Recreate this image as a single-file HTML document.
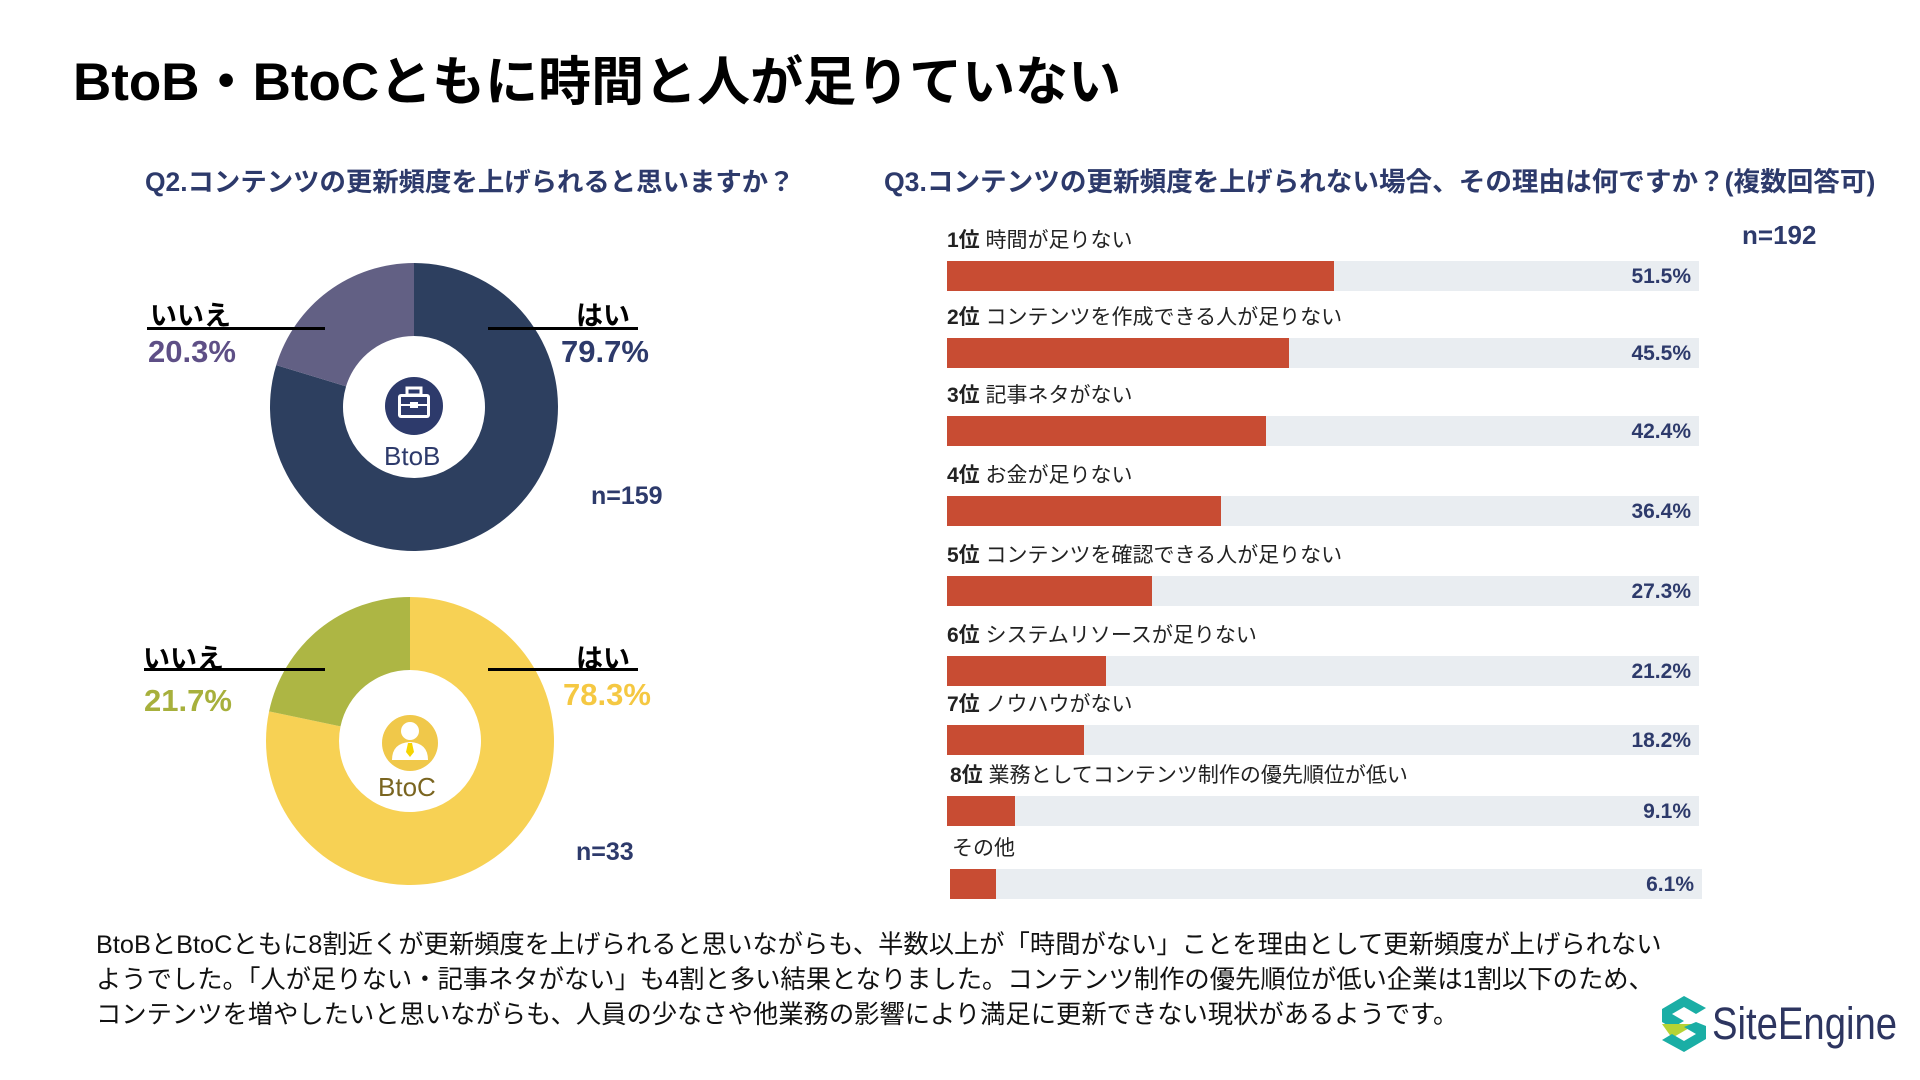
<!DOCTYPE html>
<html><head><meta charset="utf-8">
<style>
html,body{margin:0;padding:0;background:#fff;}
body{width:1920px;height:1080px;position:relative;overflow:hidden;font-family:"Liberation Sans","Noto Sans CJK JP",sans-serif;}
.a{position:absolute;white-space:nowrap;}
</style></head><body>
<div class="a" style="left:73px;top:40px;font-size:53px;font-weight:bold;color:#000;">BtoB・BtoCともに時間と人が足りていない</div>
<div class="a" style="left:145px;top:160px;font-size:26.4px;font-weight:bold;color:#2d3a6b;">Q2.コンテンツの更新頻度を上げられると思いますか？</div>
<div class="a" style="left:884px;top:160px;font-size:26.6px;font-weight:bold;color:#2d3a6b;">Q3.コンテンツの更新頻度を上げられない場合、その理由は何ですか？(複数回答可)</div>

<svg class="a" style="left:0;top:0" width="900" height="900" id="donuts"></svg>

<div class="a" style="left:150px;top:294px;font-size:27px;font-weight:bold;">いいえ</div>
<div class="a" style="left:147px;top:327px;width:178px;height:3px;background:#000;"></div>
<div class="a" style="left:148px;top:334px;font-size:31px;font-weight:bold;color:#5e4f86;">20.3%</div>
<div class="a" style="left:576px;top:294px;font-size:27px;font-weight:bold;">はい</div>
<div class="a" style="left:488px;top:327px;width:150px;height:3px;background:#000;"></div>
<div class="a" style="left:561px;top:334px;font-size:31px;font-weight:bold;color:#2d3a6b;">79.7%</div>
<div class="a" style="left:591px;top:482px;font-size:25px;font-weight:bold;color:#2d3a6b;">n=159</div>
<div class="a" style="left:384px;top:441px;font-size:26px;color:#2d3a6b;">BtoB</div>

<div class="a" style="left:143px;top:637px;font-size:27px;font-weight:bold;">いいえ</div>
<div class="a" style="left:144px;top:668px;width:181px;height:3px;background:#000;"></div>
<div class="a" style="left:144px;top:683px;font-size:31px;font-weight:bold;color:#a7b03c;">21.7%</div>
<div class="a" style="left:576px;top:637px;font-size:27px;font-weight:bold;">はい</div>
<div class="a" style="left:488px;top:668px;width:150px;height:3px;background:#000;"></div>
<div class="a" style="left:563px;top:677px;font-size:31px;font-weight:bold;color:#f5c842;">78.3%</div>
<div class="a" style="left:576px;top:838px;font-size:25px;font-weight:bold;color:#2d3a6b;">n=33</div>
<div class="a" style="left:378px;top:772px;font-size:26px;color:#7a6520;">BtoC</div>

<div class="a" style="left:1742px;top:220px;font-size:26px;font-weight:bold;color:#2d3a6b;">n=192</div>
<div id="bars"></div>

<div class="a" style="left:96px;top:928px;font-size:25.3px;line-height:35px;color:#111;">BtoBとBtoCともに8割近くが更新頻度を上げられると思いながらも、半数以上が「時間がない」ことを理由として更新頻度が上げられない<br>ようでした。「人が足りない・記事ネタがない」も4割と多い結果となりました。コンテンツ制作の優先順位が低い企業は1割以下のため、<br>コンテンツを増やしたいと思いながらも、人員の少なさや他業務の影響により満足に更新できない現状があるようです。</div>

<svg class="a" style="left:1660px;top:994px" width="48" height="60" viewBox="0 0 48 60">
<polygon points="24,2 46,14 36,20 24,13 12,20 24,27 12,34 2,28 2,15" fill="#1aaea5"/>
<polygon points="2,30 36,30 12,44" fill="#b6d334"/>
<polygon points="46,32 46,45 24,58 2,46 12,40 24,47 36,40 24,33 36,28" fill="#1aaea5"/>
</svg>
<div class="a" style="left:1712px;top:998px;font-size:45px;color:#2d3560;transform:scaleX(0.85);transform-origin:left top;">SiteEngine</div>

<script>
const donutNames=['btob','btoc'];
const yesValues=[79.7,78.3];
const noValues=[20.3,21.7];
const yesColors=['#2d3f5f','#f7d154'];
const noColors=['#626084','#adb644'];
const centers=[[414,407],[410,741]];
const ns='http://www.w3.org/2000/svg';
const svg=document.getElementById('donuts');
function pt(cx,cy,r,f){const a=f*2*Math.PI-Math.PI/2;return [cx+r*Math.cos(a),cy+r*Math.sin(a)];}
function arc(cx,cy,R,r,f0,f1){const p0=pt(cx,cy,R,f0),p1=pt(cx,cy,R,f1),q1=pt(cx,cy,r,f1),q0=pt(cx,cy,r,f0);const l=(f1-f0)>0.5?1:0;
return `M${p0} A${R},${R} 0 ${l} 1 ${p1} L${q1} A${r},${r} 0 ${l} 0 ${q0}Z`;}
donutNames.forEach((nm,i)=>{
 const [cx,cy]=centers[i];const tot=yesValues[i]+noValues[i];
 const y=yesValues[i]/tot;
 const p1=document.createElementNS(ns,'path');
 p1.setAttribute('d',arc(cx,cy,144,71,0,y));p1.setAttribute('fill',yesColors[i]);
 
 
 svg.appendChild(p1);
 const p2=document.createElementNS(ns,'path');
 p2.setAttribute('d',arc(cx,cy,144,71,y,1));p2.setAttribute('fill',noColors[i]);
 
 
 svg.appendChild(p2);
});
svg.insertAdjacentHTML('beforeend',`
<g><circle cx="414" cy="406" r="29" fill="#2d3a6b"/>
<rect x="398" y="394" width="32" height="24" rx="3" fill="#fff"/><rect x="401" y="397" width="26" height="18" fill="#2d3a6b"/>
<rect x="407" y="388" width="14" height="7" fill="none" stroke="#fff" stroke-width="3"/>
<rect x="398" y="404" width="32" height="2" fill="#fff"/><rect x="410" y="402" width="8" height="6" fill="#fff"/></g>
<g><circle cx="410" cy="743" r="28" fill="#f0c84a"/>
<circle cx="410" cy="731" r="9" fill="#fff"/><path d="M392,760 Q392,743 410,742 Q428,743 428,760Z" fill="#fff"/>
<polygon points="408,743 412,743 414,752 410,757 406,752" fill="#f5d400"/></g>`);

const reasons=['時間が足りない','コンテンツを作成できる人が足りない','記事ネタがない','お金が足りない','コンテンツを確認できる人が足りない','システムリソースが足りない','ノウハウがない','業務としてコンテンツ制作の優先順位が低い','その他'];
const ranks=['1位','2位','3位','4位','5位','6位','7位','8位',''];
const percents=[51.5,45.5,42.4,36.4,27.3,21.2,18.2,9.1,6.1];
const rowTops=[261,338,416,496,576,656,725,796,869];
const x0=947,trackW=752;
function xs(v){return v/100*trackW;}
const host=document.getElementById('bars');
percents.forEach((v,i)=>{
 const t=rowTops[i];
 const off=i===8?3:0;
 const tr=document.createElement('div');tr.className='a';
 tr.style.cssText=`left:${x0+off}px;top:${t}px;width:${trackW}px;height:30px;background:#e9edf1;`;
 
 
 host.appendChild(tr);
 const b=document.createElement('div');b.className='a';
 b.style.cssText=`left:${x0+off}px;top:${t}px;width:${xs(v)}px;height:30px;background:#c84c33;`;
 
 
 host.appendChild(b);
 const val=document.createElement('div');val.className='a';
 val.style.cssText=`left:${x0+off}px;width:${trackW-8}px;top:${t+2}px;text-align:right;font-size:21px;font-weight:bold;color:#2d3a6b;line-height:28px;`;
 val.textContent=v.toFixed(1)+'%';
 
 
 host.appendChild(val);
 const lb=document.createElement('div');lb.className='a';
 lb.style.cssText=`left:${x0+(i===8?5:0)+(i===7?3:0)}px;top:${t-34}px;font-size:21px;color:#222;line-height:28px;`;
 lb.innerHTML=(ranks[i]?'<b>'+ranks[i]+'</b> ':'')+reasons[i];
 
 
 host.appendChild(lb);
});
</script>
</body></html>
